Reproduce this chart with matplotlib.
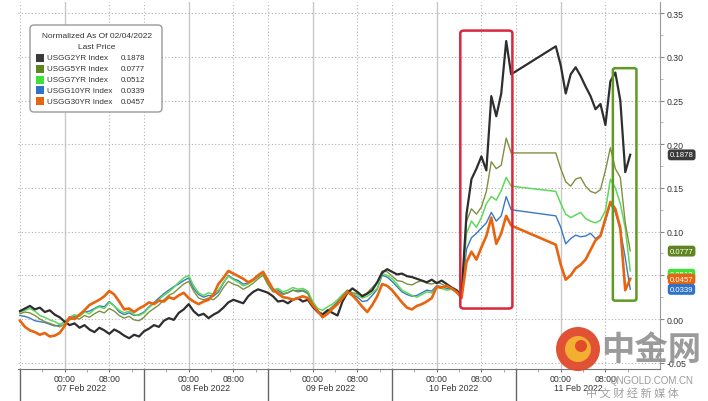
import numpy as np
import matplotlib
matplotlib.use('Agg')
import matplotlib.pyplot as plt
from matplotlib.patches import FancyBboxPatch, Rectangle, Circle
from matplotlib.transforms import Affine2D, blended_transform_factory

W, H, DPI = 708, 402, 100
plt.rcParams['font.family'] = ['Liberation Sans', 'DejaVu Sans']

# ---- data (x in trading sessions since 07 Feb session open, values in 1e-3) ----
step = 0.04
t_early = np.round(np.arange(100) * step, 2)          # 07 Feb -> 10 Feb midday
t_late = np.round(4.32 + np.arange(16) * step, 2)     # 11 Feb

usgg2 = [9, 12, 15, 11, 13, 8, 10, 5, 2, -3, -7, -5, -10, -7, -12, -15, -10, -13, -17, -12,
         -15, -19, -22, -18, -20, -14, -11, -7, -9, -2, 1, -1, 7, 11, 17, 9, 4, 6, 1, 5,
         8, 13, 19, 22, 20, 18, 26, 31, 34, 32, 30, 26, 20, 21, 18, 22, 24, 20, 22, 14,
         8, 5, 10, 7, 4, 20, 30, 35, 31, 26, 29, 33, 42, 53, 57, 54, 51, 52, 49, 48,
         46, 44, 42, 45, 41, 44, 40, 36, 33, 27, 120, 160, 172, 186, 170, 255, 232, 258, 318, 280]
usgg2_late = [312, 290, 258, 280, 288, 278, 266, 255, 240, 246, 222, 272, 282, 250, 168, 188]

usgg5 = [6, 8, 7, 4, 0, -3, -5, -7, -9, -6, -1, 1, 0, 4, 2, 6, 9, 7, 12, 9,
         4, 1, 3, -1, -2, 2, 8, 12, 16, 22, 27, 30, 35, 40, 43, 32, 24, 22, 24, 22,
         27, 36, 43, 40, 38, 34, 37, 41, 46, 50, 39, 31, 31, 28, 30, 33, 31, 32, 29, 17,
         9, 6, 10, 14, 19, 26, 33, 30, 29, 27, 30, 36, 42, 55, 54, 49, 44, 43, 40, 39,
         42, 44, 41, 40, 42, 40, 37, 36, 32, 27, 112, 126, 120, 128, 146, 180, 172, 176, 207, 190]
usgg5_late = [190, 172, 157, 152, 160, 162, 152, 146, 144, 148, 170, 196, 172, 162, 110, 78]

usgg7 = [8, 10, 12, 9, 4, 2, -1, -3, -6, -4, 2, 5, 3, 8, 6, 11, 14, 12, 19, 15,
         10, 7, 9, 5, 4, 7, 13, 18, 22, 27, 31, 36, 42, 47, 50, 38, 30, 27, 30, 28,
         33, 42, 49, 45, 42, 38, 40, 44, 48, 51, 40, 33, 35, 31, 33, 36, 34, 35, 32, 20,
         12, 10, 14, 17, 22, 28, 33, 29, 27, 24, 26, 30, 35, 52, 50, 46, 40, 33, 30, 27,
         25, 28, 31, 30, 36, 35, 33, 34, 30, 26, 98, 112, 105, 116, 132, 140, 136, 147, 162, 152]
usgg7_late = [146, 132, 120, 116, 119, 122, 115, 112, 110, 113, 124, 160, 150, 132, 104, 55]

usgg10 = [4, 3, 1, -2, -3, -4, -6, -8, -7, -3, 1, 3, 4, 8, 9, 12, 15, 14, 20, 15,
          8, 5, 7, 4, 5, 8, 14, 19, 24, 29, 33, 37, 40, 44, 47, 35, 28, 25, 27, 26,
          31, 41, 50, 46, 44, 40, 41, 45, 49, 53, 42, 34, 33, 29, 30, 33, 32, 33, 30, 19,
          10, 5, 9, 14, 20, 26, 32, 28, 25, 20, 21, 27, 34, 50, 48, 43, 37, 31, 28, 26,
          27, 30, 33, 32, 38, 37, 35, 35, 31, 25, 80, 93, 98, 104, 110, 122, 112, 118, 140, 125]
usgg10_late = [118, 105, 86, 92, 96, 94, 95, 98, 92, 96, 112, 132, 122, 102, 70, 34]

usgg30 = [-2, -9, -13, -15, -18, -16, -20, -19, -16, -8, 2, 0, 5, 10, 16, 19, 22, 26, 32, 28,
          20, 11, 12, 8, 12, 15, 19, 17, 21, 20, 25, 23, 27, 30, 24, 20, 17, 20, 22, 28,
          40, 47, 55, 52, 49, 46, 42, 45, 50, 54, 44, 34, 29, 25, 24, 22, 24, 26, 24, 16,
          9, 2, 6, 12, 17, 24, 31, 27, 21, 14, 8, 16, 26, 40, 38, 33, 26, 19, 13, 11,
          15, 17, 20, 24, 37, 36, 38, 35, 31, 24, 65, 77, 68, 82, 95, 116, 86, 98, 118, 107]
usgg30_late = [85, 62, 45, 50, 58, 62, 68, 79, 90, 95, 115, 134, 126, 104, 33, 46]

names = ['USGG2YR Index', 'USGG5YR Index', 'USGG7YR Index', 'USGG10YR Index', 'USGG30YR Index']
last = [0.1878, 0.0777, 0.0512, 0.0339, 0.0457]
colors = ['#2e2e2e', '#7f9040', '#5ed85a', '#3a78c2', '#e8640f']
swatch = ['#3a3a3a', '#5f8420', '#3fe03a', '#2f72c8', '#e8640f']
widths = [1.6, 1.0, 1.1, 1.0, 1.9]

days = ['07 Feb 2022', '08 Feb 2022', '09 Feb 2022', '10 Feb 2022', '11 Feb 2022']
yticks = [-0.05, 0.0, 0.05, 0.10, 0.15, 0.20, 0.25, 0.30, 0.35]

t = np.concatenate([t_early, t_late])
series = [usgg2 + usgg2_late, usgg5 + usgg5_late, usgg7 + usgg7_late,
          usgg10 + usgg10_late, usgg30 + usgg30_late]

fig = plt.figure(figsize=(W / DPI, H / DPI), dpi=DPI)
ax = fig.add_axes([18 / W, 1 - 370 / H, (660 - 18) / W, (370 - 3) / H])
px = Affine2D().scale(1, -1).translate(0, H).scale(1 / DPI) + fig.dpi_scale_trans
xdata_yaxes = blended_transform_factory(ax.transData, ax.transAxes)

# grid
for d in range(5):
    ax.axvline(d, color='#b5b5b5', lw=0.8, ls=(0, (1, 2)), zorder=0)
    ax.axvline(d + 0.36, color='#c8c8c8', lw=1.0, zorder=0)
    ax.axvline(d + 0.72, color='#b5b5b5', lw=0.8, ls=(0, (1, 2)), zorder=0)
    ax.axvline(d, ymin=-32 / 367, ymax=0, clip_on=False, color='#666666', lw=1.0)
    ax.text(d + 0.5, -19 / 367, days[d], ha='center', va='center', fontsize=6.3,
            color='#333333', transform=xdata_yaxes, clip_on=False)
ax.set_yticks(yticks)
ax.yaxis.grid(True, color='#b0b0b0', lw=0.8, ls=(0, (1, 2)))
ax.set_axisbelow(True)

# lines (draw blue/green first so black and orange sit on top)
for k in [3, 2, 1, 0, 4]:
    ax.plot(t, np.array(series[k]) / 1000, color=colors[k], lw=widths[k], zorder=3)

ax.set_xlim(-0.016, 5.16)
ax.set_ylim(-0.0572, 0.3627)

# axes styling
for s in ['top', 'left']:
    ax.spines[s].set_visible(False)
ax.spines['right'].set_color('#9a9a9a')
ax.spines['bottom'].set_color('#777777')
ax.yaxis.tick_right()
ax.set_yticklabels([f'{v:.2f}' for v in yticks])
ax.tick_params(axis='y', labelsize=6.3, labelcolor='#333333', length=3, color='#888888', pad=2)
ax.set_yticks(np.arange(-0.05, 0.36, 0.025), minor=True)
ax.tick_params(axis='y', which='minor', length=2, color='#aaaaaa')
xt = [d + f for d in range(5) for f in (0.36, 0.72)]
ax.set_xticks(xt)
ax.set_xticklabels(['00:00', '08:00'] * 5)
ax.set_xticks([d + f for d in range(5) for f in (0.18, 0.54, 0.9)], minor=True)
ax.tick_params(axis='x', labelsize=6.3, labelcolor='#333333', length=2, color='#777777', pad=1.5)
ax.tick_params(axis='x', which='minor', length=2, color='#999999')

# highlight boxes
ax.add_patch(FancyBboxPatch((3.55, 0.012), 0.42, 0.318, boxstyle='round,pad=0,rounding_size=0.03',
                            fc='none', ec='#d8283c', lw=1.8, zorder=5, mutation_aspect=0.1))
ax.add_patch(FancyBboxPatch((4.78, 0.021), 0.19, 0.266, boxstyle='round,pad=0,rounding_size=0.02',
                            fc='none', ec='#5f9a25', lw=1.8, zorder=5, mutation_aspect=0.1))

# last value tags
for k in [0, 1, 2, 4, 3]:
    ax.annotate(f'{last[k]:.4f}', xy=(1.0, last[k]), xycoords=('axes fraction', 'data'),
                xytext=(7, 0), textcoords='offset points', ha='left', va='center',
                fontsize=5.6, color='white', annotation_clip=False,
                bbox=dict(boxstyle='round,pad=0.25,rounding_size=0.35', fc=swatch[k], ec='none'))

# legend block
fig.add_artist(FancyBboxPatch((30, 26), 132, 87, boxstyle='round,pad=0,rounding_size=4',
                              transform=px, fc='white', ec='#9a9a9a', lw=1.0))
fig.text(97, 37, 'Normalized As Of 02/04/2022', transform=px, ha='center', va='center',
         fontsize=6.0, color='#333333')
fig.text(97, 48, 'Last Price', transform=px, ha='center', va='center', fontsize=6.0, color='#333333')
for k in range(5):
    yc = 59 + 10.8 * k
    fig.add_artist(Rectangle((36, yc - 4), 8, 8, transform=px, fc=swatch[k], ec='none'))
    fig.text(47, yc, names[k], transform=px, ha='left', va='center', fontsize=5.8, color='#333333')
    fig.text(121, yc, f'{last[k]:.4f}', transform=px, ha='left', va='center', fontsize=5.8,
             color='#333333')

# watermark
fig.add_artist(Circle((578, 350), 22, transform=px, fc='#e0482a', ec='none', alpha=0.95))
fig.add_artist(Circle((578, 350), 13, transform=px, fc='#f5b531', ec='none', alpha=0.95))
fig.add_artist(Circle((581, 347), 6, transform=px, fc='#e0482a', ec='none', alpha=0.95))
fig.text(651, 351, '中金网', transform=px, ha='center', va='center', fontsize=24,
         color='#8a8a8a', alpha=0.85, family=['Noto Sans CJK SC', 'DejaVu Sans'], fontweight='bold')
fig.text(651, 381, 'QNGOLD.COM.CN', transform=px, ha='center', va='center', fontsize=7,
         color='#9a9a9a')
fig.text(632, 393, '中 文 财 经 新 媒 体', transform=px, ha='center', va='center', fontsize=8,
         color='#a0a0a0', family=['Noto Sans CJK SC', 'DejaVu Sans'])

fig.savefig('out.png', dpi=DPI)
